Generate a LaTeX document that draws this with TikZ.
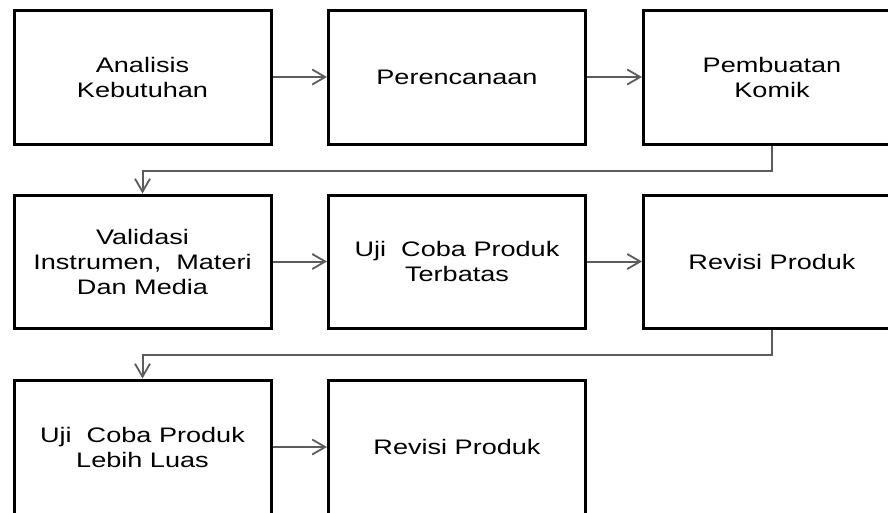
\documentclass[tikz,border=0pt]{standalone}
\usepackage{fontspec}
\setmainfont{Liberation Sans}[FakeStretch=1.29]
\usetikzlibrary{arrows.meta}
\tikzset{
  stage/.style={draw=black, line width=3pt, fill=white, minimum width=257pt,
    minimum height=134pt, align=center, inner sep=0pt,
    font=\fontsize{21pt}{25pt}\selectfont},
  flow/.style={draw=black!64, line width=2pt,
    -{Straight Barb[length=13pt,width=15pt,line width=1.8pt]}},
}
\begin{document}
\begin{tikzpicture}[x=1pt,y=-1pt]
\useasboundingbox (0,0) rectangle (888,512);
\clip (0,0) rectangle (888,512);
% row 1
\node[stage] (a1) at (142.5,77) {Analisis\\Kebutuhan};
\node[stage] (a2) at (457,77) {Perencanaan};
\node[stage] (a3) at (772,77) {Pembuatan\\Komik};
% row 2
\node[stage, minimum height=133pt] (b1) at (142.5,261.5) {Validasi\\Instrumen,\ \ Materi\\Dan Media};
\node[stage, minimum height=133pt] (b2) at (457,261.5) {Uji\ \ Coba Produk\\Terbatas};
\node[stage, minimum height=133pt] (b3) at (772,261.5) {Revisi Produk};
% row 3
\node[stage] (c1) at (142.5,447) {Uji\ \ Coba Produk\\Lebih Luas};
\node[stage] (c2) at (457,447) {Revisi Produk};
% horizontal links
\draw[flow] (a1.east) -- (a2.west);
\draw[flow] (a2.east) -- (a3.west);
\draw[flow] (b1.east) -- (b2.west);
\draw[flow] (b2.east) -- (b3.west);
\draw[flow] (c1.east) -- (c2.west);
% wrap-around links between rows
\coordinate (k1) at (772,171);
\coordinate (k2) at (772,355);
\draw[flow] (a3.south) -- (k1) -| (b1.north);
\draw[flow] (b3.south) -- (k2) -| (c1.north);
\end{tikzpicture}
\end{document}
